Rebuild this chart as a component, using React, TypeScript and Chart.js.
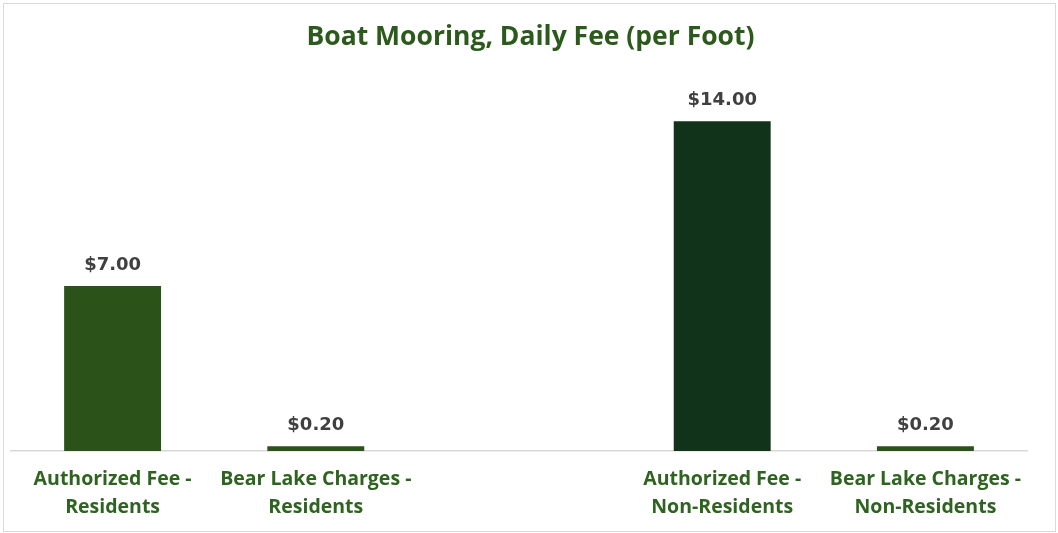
import React, { useEffect, useRef } from "react";
import { Chart, registerables } from "chart.js";

Chart.register(...registerables);

const chartTitle = "Boat Mooring, Daily Fee (per Foot)";
const categories: string[][] = [
  ["Authorized Fee -", "Residents"],
  ["Bear Lake Charges -", "Residents"],
  [""],
  ["Authorized Fee -", "Non-Residents"],
  ["Bear Lake Charges -", "Non-Residents"],
];
const feeValues: (number | null)[] = [7, 0.2, null, 14, 0.2];
const barColors: string[] = ["#2A5219", "#2A5219", "#2A5219", "#10331A", "#2A5219"];
const yMax = 16;

const TITLE_FONT = "bold 26.5px 'Open Sans'";

const valueLabelPlugin = {
  id: "valueLabels",
  afterDatasetsDraw(chart: any) {
    const ctx = chart.ctx;
    const meta = chart.getDatasetMeta(0);
    ctx.save();
    ctx.font = "bold 18px 'DejaVu Sans'";
    ctx.fillStyle = "#404040";
    ctx.textAlign = "center";
    ctx.textBaseline = "middle";
    meta.data.forEach((bar: any, i: number) => {
      const v = feeValues[i];
      if (v === null || v === undefined) return;
      ctx.fillText("$" + v.toFixed(2), bar.x, bar.y - 21);
    });
    // title centred on the full canvas
    ctx.font = TITLE_FONT;
    ctx.fillStyle = "#2B5A1C";
    ctx.fillText(chartTitle, chart.width / 2 + 1.5, 37);
    ctx.restore();
  },
};

export default function App() {
  const ref = useRef<HTMLCanvasElement>(null);
  useEffect(() => {
    if (!ref.current) return;
    const chart = new Chart(ref.current, {
      type: "bar",
      data: {
        labels: categories,
        datasets: [
          {
            data: feeValues,
            backgroundColor: barColors,
            barPercentage: 0.477,
            categoryPercentage: 1,
          },
        ],
      },
      options: {
        responsive: false,
        animation: false,
        layout: { padding: { left: 11, right: 31, top: 0, bottom: 0 } },
        plugins: {
          legend: { display: false },
          tooltip: { enabled: false },
          title: {
            display: true,
            text: chartTitle,
            color: "rgba(0,0,0,0)",
            font: { family: "'Open Sans'", size: 26.5, weight: "bold", lineHeight: 1.2 },
            padding: { top: 21.2, bottom: 21 },
          },
        },
        scales: {
          x: {
            grid: { display: false, drawTicks: false },
            border: { display: true, color: "#D9D9D9", width: 1.5 },
            ticks: {
              color: "#2E6320",
              font: { family: "'Open Sans'", size: 19.5, weight: "bold", lineHeight: 1.42 },
              padding: 15,
              maxRotation: 0,
              autoSkip: false,
            },
            afterFit: (s: any) => {
              s.height = 82;
            },
          },
          y: {
            display: false,
            min: 0,
            max: yMax,
          },
        },
      },
      plugins: [valueLabelPlugin],
    });
    return () => chart.destroy();
  }, []);
  return (
    <div style={{ position: "fixed", left: 0, top: 0, width: 1058, height: 533, background: "#fff" }}>
      <div
        style={{
          position: "absolute",
          left: 3,
          top: 3,
          width: 1051,
          height: 527,
          border: "1px solid #D9D9D9",
        }}
      />
      <canvas ref={ref} width={1058} height={533} style={{ position: "absolute", left: 0, top: 0 }} />
    </div>
  );
}
